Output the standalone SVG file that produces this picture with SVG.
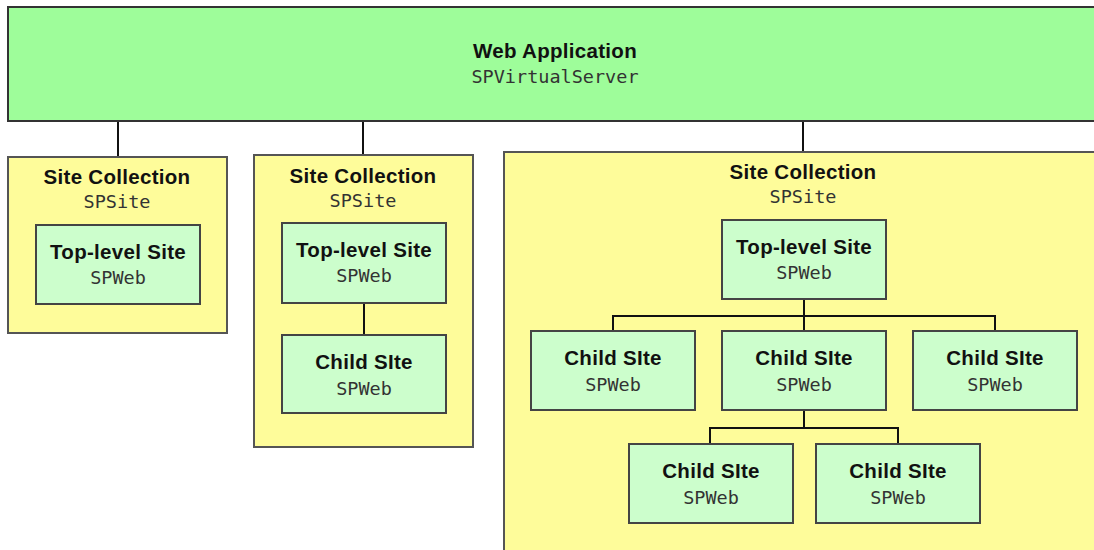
<svg xmlns="http://www.w3.org/2000/svg" width="1094" height="550" viewBox="0 0 1094 550">
<style>
.app{fill:#9efd9a;stroke:#333;stroke-width:2}
.sc{fill:#fefc9a;stroke:#555;stroke-width:2}
.web{fill:#ccfecc;stroke:#444;stroke-width:2}
.t{font-family:"Liberation Sans",Arial,sans-serif;font-weight:bold;font-size:20.5px;fill:#111;text-anchor:middle;letter-spacing:0.3px}
.m{font-family:"DejaVu Sans Mono","Liberation Mono",monospace;font-size:18.5px;fill:#333;text-anchor:middle}
.c{fill:none;stroke:#111;stroke-width:2}
</style>
<rect width="1094" height="550" fill="#fff"/>
<g id="web-application">
<rect class="app" x="8" y="7" width="1100" height="114"/>
<text class="t" x="555" y="58">Web Application</text>
<text class="m" x="555" y="83">SPVirtualServer</text>
</g>
<g id="site-collection-1">
<rect class="sc" x="8" y="157" width="219" height="176"/>
<text class="t" x="117" y="184">Site Collection</text>
<text class="m" x="117" y="208">SPSite</text>
</g>
<g id="top-level-1">
<rect class="web" x="36" y="225" width="164" height="79"/>
<text class="t" x="118" y="259">Top-level Site</text>
<text class="m" x="118" y="284">SPWeb</text>
</g>
<g id="site-collection-2">
<rect class="sc" x="254" y="155" width="219" height="292"/>
<text class="t" x="363" y="183">Site Collection</text>
<text class="m" x="363" y="207">SPSite</text>
</g>
<g id="top-level-2">
<rect class="web" x="282" y="223" width="164" height="80"/>
<text class="t" x="364" y="257">Top-level Site</text>
<text class="m" x="364" y="282">SPWeb</text>
</g>
<g id="child-2">
<rect class="web" x="282" y="335" width="164" height="78"/>
<text class="t" x="364" y="369">Child SIte</text>
<text class="m" x="364" y="395">SPWeb</text>
</g>
<g id="site-collection-3">
<rect class="sc" x="504" y="152" width="600" height="410"/>
<text class="t" x="803" y="179">Site Collection</text>
<text class="m" x="803" y="203">SPSite</text>
</g>
<g id="top-level-3">
<rect class="web" x="722" y="220" width="164" height="79"/>
<text class="t" x="804" y="254">Top-level Site</text>
<text class="m" x="804" y="279">SPWeb</text>
</g>
<g id="child-3a">
<rect class="web" x="531" y="331" width="164" height="79"/>
<text class="t" x="613" y="365">Child SIte</text>
<text class="m" x="613" y="391">SPWeb</text>
</g>
<g id="child-3b">
<rect class="web" x="722" y="331" width="164" height="79"/>
<text class="t" x="804" y="365">Child SIte</text>
<text class="m" x="804" y="391">SPWeb</text>
</g>
<g id="child-3c">
<rect class="web" x="913" y="331" width="164" height="79"/>
<text class="t" x="995" y="365">Child SIte</text>
<text class="m" x="995" y="391">SPWeb</text>
</g>
<g id="child-3d">
<rect class="web" x="629" y="444" width="164" height="79"/>
<text class="t" x="711" y="478">Child SIte</text>
<text class="m" x="711" y="504">SPWeb</text>
</g>
<g id="child-3e">
<rect class="web" x="816" y="444" width="164" height="79"/>
<text class="t" x="898" y="478">Child SIte</text>
<text class="m" x="898" y="504">SPWeb</text>
</g>
<g id="connectors">
<path class="c" d="M118 122V156M363 122V154M803 122V151"/>
<path class="c" d="M364 304V334"/>
<path class="c" d="M804 300V316M613 330V316H995V330M804 316V330"/>
<path class="c" d="M804 411V428M710 443V428H898V443"/>
</g>
</svg>
